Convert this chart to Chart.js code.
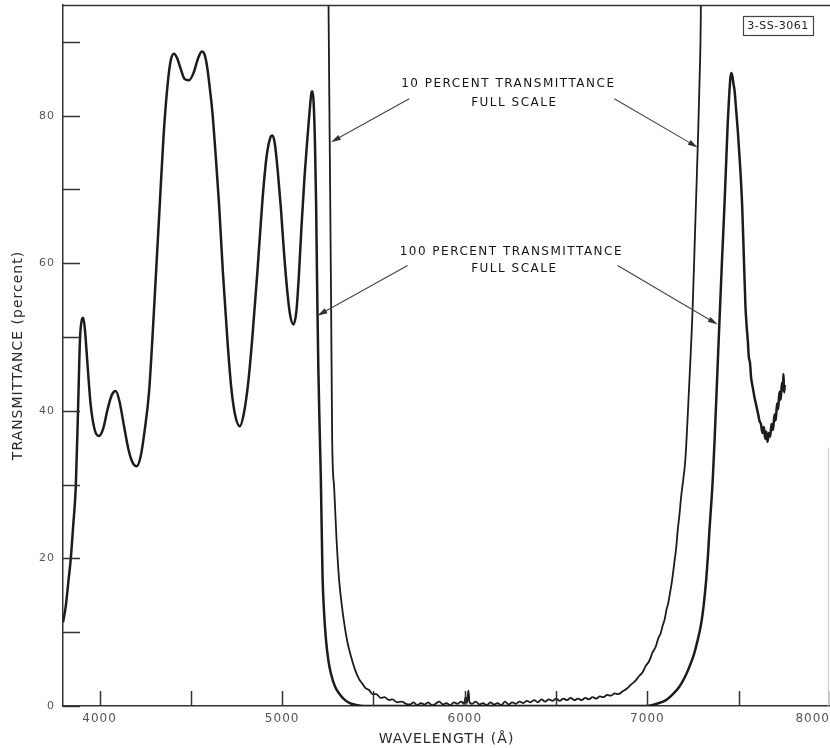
<!DOCTYPE html>
<html>
<head>
<meta charset="utf-8">
<script src="https://cdn.jsdelivr.net/npm/chart.js@4.4.1/dist/chart.umd.min.js"></script>
<style>
html,body{margin:0;padding:0;background:#fff;}
#wrap{width:830px;height:748px;}
</style>
</head>
<body>
<div id="wrap"><canvas id="c" width="830" height="748"></canvas></div>
<script>
// ---- DATA ----
// 100 percent transmittance full-scale trace
const wavelength100 = [3800,3815,3830,3842,3856,3870,3882,3893,3903,3911,3920,3935,3952,3975,3997,4020,4045,4068,4089,4110,4135,4160,4185,4204,4225,4248,4271,4290,4310,4330,4350,4372,4390,4408,4425,4445,4465,4490,4515,4540,4560,4575,4590,4605,4618,4635,4655,4675,4700,4720,4742,4768,4790,4815,4837,4865,4892,4915,4935,4947,4960,4976,4993,5010,5029,5045,5062,5078,5092,5106,5122,5137,5150,5160,5166,5173,5180,5186,5192,5198,5205,5212,5221,5230,5240,5253,5267,5290,5312,5340,5370,5404,5450,6990,7050,7102,7140,7175,7205,7230,7255,7276,7292,7303,7314,7322,7332,7340,7350,7358,7368,7378,7387,7394,7408,7422,7432,7440,7448,7455,7460,7466,7472,7477,7486,7495,7507,7519,7528,7537,7545,7550,7555,7562,7568,7577,7585,7592,7600,7607,7614,7622,7630,7638,7645,7651,7658,7665,7672,7680,7688,7696,7703,7710,7716,7723,7730,7737,7742,7745,7749,7752];
const transmittance100 = [11.3,13.5,17,19.8,24.5,29.7,39.8,49.7,52.3,52.6,51.0,46,40.7,37.3,36.6,37.6,40.3,42.2,42.7,41.2,37.8,34.6,32.8,32.5,33.8,37.5,42.5,50,59,68,77,84,87.5,88.4,87.8,86.3,85.0,84.8,85.8,87.8,88.7,88.3,86.5,83.5,80.5,75,67.8,59,49.7,43.5,39.5,37.9,39.6,44,50,59,68.5,74.5,77,77.3,76.2,72.5,67.5,61.5,56,52.8,51.7,53.5,58.5,65,71.5,76.5,80.5,83,83.3,81.5,76,68,56,46,38,30.7,17.8,12.5,9.0,6.2,4.4,2.6,1.7,0.9,0.4,0.15,0,0,0.3,0.8,1.6,2.6,3.9,5.3,7.0,9.0,10.8,12.6,15,17.1,20.5,23.9,27.5,30.7,36,42,47.5,51.7,60,67.8,74,79,82.8,85.2,85.8,85.3,84.2,83.5,80.8,78.0,73.5,67.8,61,54.2,51,49.5,47.4,46.5,44.5,43.2,42,41.2,40.3,39.5,38.6,38.2,37.0,37.8,36.2,37.2,35.8,37.0,36.5,38.2,37.4,39.5,38.7,41.0,40.2,42.6,41.5,43.8,42.8,45.0,42.5,43.5];

// 10 percent transmittance full-scale trace (runs off the top of the frame)
const wavelength10 = [5246,5254,5261,5268,5274,5285,5298,5312,5326,5340,5358,5376,5398,5422,5440,5458,5475,5495,5515,5540,5560,5586,5605,5630,5655,5678,5700,5720,5740,5760,5780,5800,5820,5840,5860,5880,5900,5920,5940,5960,5980,5995,6005,6012,6020,6026,6040,6060,6080,6100,6120,6140,6160,6180,6200,6220,6240,6260,6280,6300,6320,6340,6360,6380,6400,6420,6440,6460,6480,6500,6520,6540,6560,6580,6600,6620,6640,6660,6680,6700,6720,6740,6760,6780,6800,6820,6840,6865,6885,6910,6930,6956,6975,6990,7010,7029,7045,7060,7072,7084,7095,7105,7113,7121,7135,7148,7158,7166,7176,7185,7197,7208,7228,7248,7262,7276,7286,7293,7298];
const transmittance10 = [130,95,75,55,36,29.5,22.5,17.1,13.8,11.2,8.6,6.8,5.0,3.6,3.0,2.4,2.2,1.6,1.6,1.1,1.2,0.8,0.9,0.5,0.6,0.3,0.2,0.5,0.1,0.4,0.2,0.5,0.1,0.3,0.6,0.2,0.4,0.1,0.5,0.3,0.6,0.3,1.2,0.4,2.1,0.5,0.3,0.6,0.2,0.4,0.1,0.5,0.2,0.4,0.1,0.6,0.2,0.5,0.3,0.6,0.4,0.7,0.5,0.8,0.5,0.9,0.6,0.9,0.7,1.0,0.7,1.0,0.8,1.1,0.8,1.0,0.8,1.1,0.9,1.2,1.0,1.3,1.2,1.5,1.4,1.7,1.6,2.0,2.3,2.9,3.3,4.1,4.6,5.4,6.1,7.3,8.0,9.2,9.8,10.9,11.8,13.1,13.8,14.9,17.0,19.5,21.5,23.8,26.0,28.4,30.8,33.4,43,54,65,76,85,95,120];

// axis ticks
const yTickLabels = [0,20,40,60,80];
const yTickMarks = [0,10,20,30,40,50,60,70,80,90];
const xTickLabels = [4000,5000,6000,7000,8000];
const xTickMarks = [4000,4500,5000,5500,6000,6500,7000,7500,8000];

const xTitle = 'WAVELENGTH (Å)';
const yTitle = 'TRANSMITTANCE (percent)';
const note10 = ['10 PERCENT TRANSMITTANCE', 'FULL SCALE'];
const note100 = ['100 PERCENT TRANSMITTANCE', 'FULL SCALE'];
const figId = '3-SS-3061';

const pts = (xs, ys) => xs.map((x, i) => ({x: x, y: ys[i]}));

const INK = '#1c1c1c';
const AXIS = '#333';

const extras = {
  id: 'extras',
  beforeDraw(chart) {
    chart.ctx.letterSpacing = '1px';
  },
  afterDatasetsDraw(chart) {
    const {ctx, chartArea: a, scales: {x, y}} = chart;
    ctx.save();
    ctx.letterSpacing = '0px';
    // frame top line and faint right edge
    ctx.strokeStyle = AXIS;
    ctx.lineWidth = 1.5;
    ctx.beginPath();
    ctx.moveTo(a.left, a.top + 0.5);
    ctx.lineTo(a.right, a.top + 0.5);
    ctx.stroke();
    ctx.strokeStyle = '#c8c8c8';
    ctx.lineWidth = 1;
    ctx.beginPath();
    ctx.moveTo(a.right - 1.5, y.getPixelForValue(35));
    ctx.lineTo(a.right - 1.5, a.bottom);
    ctx.stroke();
    // inward tick marks
    ctx.strokeStyle = AXIS;
    ctx.lineWidth = 1.5;
    ctx.beginPath();
    yTickMarks.forEach(v => {
      const p = Math.round(y.getPixelForValue(v)) + 0.5;
      ctx.moveTo(a.left, p); ctx.lineTo(a.left + 17, p);
    });
    xTickMarks.forEach(v => {
      const p = Math.round(x.getPixelForValue(v)) + 0.5;
      ctx.moveTo(p, a.bottom); ctx.lineTo(p, a.bottom - 15);
    });
    ctx.stroke();

    // annotations
    ctx.fillStyle = '#151515';
    ctx.font = '12px "DejaVu Sans"';
    ctx.letterSpacing = '1.5px';
    ctx.textAlign = 'center';
    ctx.textBaseline = 'middle';
    const cx = x.getPixelForValue(6255);
    ctx.fillText(note10[0], cx - 3, y.getPixelForValue(84.3));
    ctx.fillText(note10[1], cx + 3, y.getPixelForValue(81.8));
    ctx.fillText(note100[0], cx, y.getPixelForValue(61.6));
    ctx.fillText(note100[1], cx + 3, y.getPixelForValue(59.2));

    const arrow = (x0, y0, x1, y1) => {
      const X0 = x.getPixelForValue(x0), Y0 = y.getPixelForValue(y0);
      const X1 = x.getPixelForValue(x1), Y1 = y.getPixelForValue(y1);
      const ang = Math.atan2(Y1 - Y0, X1 - X0);
      ctx.strokeStyle = '#444';
      ctx.lineWidth = 1.1;
      ctx.beginPath(); ctx.moveTo(X0, Y0); ctx.lineTo(X1 - 6 * Math.cos(ang), Y1 - 6 * Math.sin(ang)); ctx.stroke();
      ctx.fillStyle = '#333';
      ctx.beginPath();
      ctx.moveTo(X1, Y1);
      ctx.lineTo(X1 - 10 * Math.cos(ang) + 2.8 * Math.sin(ang), Y1 - 10 * Math.sin(ang) - 2.8 * Math.cos(ang));
      ctx.lineTo(X1 - 10 * Math.cos(ang) - 2.8 * Math.sin(ang), Y1 - 10 * Math.sin(ang) + 2.8 * Math.cos(ang));
      ctx.closePath(); ctx.fill();
    };
    arrow(5696, 82.3, 5267, 76.4);
    arrow(6819, 82.3, 7276, 75.7);
    arrow(5687, 59.7, 5193, 52.9);
    arrow(6837, 59.7, 7385, 51.7);

    // figure id box
    const bx0 = x.getPixelForValue(7523), bx1 = x.getPixelForValue(7907);
    const by0 = y.getPixelForValue(93.5), by1 = y.getPixelForValue(90.9);
    ctx.strokeStyle = '#444';
    ctx.lineWidth = 1.2;
    ctx.strokeRect(Math.round(bx0) + 0.5, Math.round(by0) + 0.5, Math.round(bx1 - bx0), Math.round(by1 - by0));
    ctx.fillStyle = '#222';
    ctx.font = '11px "DejaVu Sans"';
    ctx.letterSpacing = '0.5px';
    ctx.fillText(figId, (bx0 + bx1) / 2, (by0 + by1) / 2 + 0.5);
    ctx.restore();
  }
};

new Chart(document.getElementById('c'), {
  type: 'line',
  data: {
    datasets: [
      {
        label: '100 percent full scale',
        data: pts(wavelength100, transmittance100),
        borderColor: INK, borderWidth: 2.5, pointRadius: 0,
        cubicInterpolationMode: 'monotone', fill: false
      },
      {
        label: '10 percent full scale',
        data: pts(wavelength10, transmittance10),
        borderColor: INK, borderWidth: 1.8, pointRadius: 0,
        cubicInterpolationMode: 'monotone', fill: false
      }
    ]
  },
  options: {
    responsive: false,
    animation: false,
    devicePixelRatio: 1,
    layout: {padding: {top: 5, right: 0, left: 0, bottom: 0}},
    plugins: {legend: {display: false}, tooltip: {enabled: false}},
    scales: {
      x: {
        type: 'linear', min: 3800, max: 8000,
        afterBuildTicks: s => { s.ticks = [{value: 3800}].concat(xTickLabels.map(v => ({value: v}))); },
        afterFit: s => { s.height = 42; s.paddingLeft = 0; s.paddingRight = 0; },
        grid: {display: false, drawTicks: false},
        border: {display: true, color: AXIS, width: 1.5},
        ticks: {
          align: 'inner', padding: 6, maxRotation: 0, autoSkip: false,
          color: '#555', font: {family: 'DejaVu Sans', size: 12},
          callback: v => (v === 3800 ? '' : String(v))
        },
        title: {display: true, text: xTitle, color: '#2a2a2a', padding: {top: 0, bottom: 0},
                font: {family: 'DejaVu Sans', size: 14}}
      },
      y: {
        type: 'linear', min: 0, max: 95,
        afterBuildTicks: s => { s.ticks = yTickLabels.map(v => ({value: v})); },
        afterFit: s => { s.width = 63; s.paddingTop = 0; s.paddingBottom = 0; },
        grid: {display: false, drawTicks: false},
        border: {display: true, color: AXIS, width: 1.5},
        ticks: {padding: 8, color: '#555', font: {family: 'DejaVu Sans', size: 11}},
        title: {display: true, text: yTitle, color: '#2a2a2a', padding: {top: 10, bottom: 0},
                font: {family: 'DejaVu Sans', size: 14}}
      }
    }
  },
  plugins: [extras]
});
</script>
</body>
</html>
